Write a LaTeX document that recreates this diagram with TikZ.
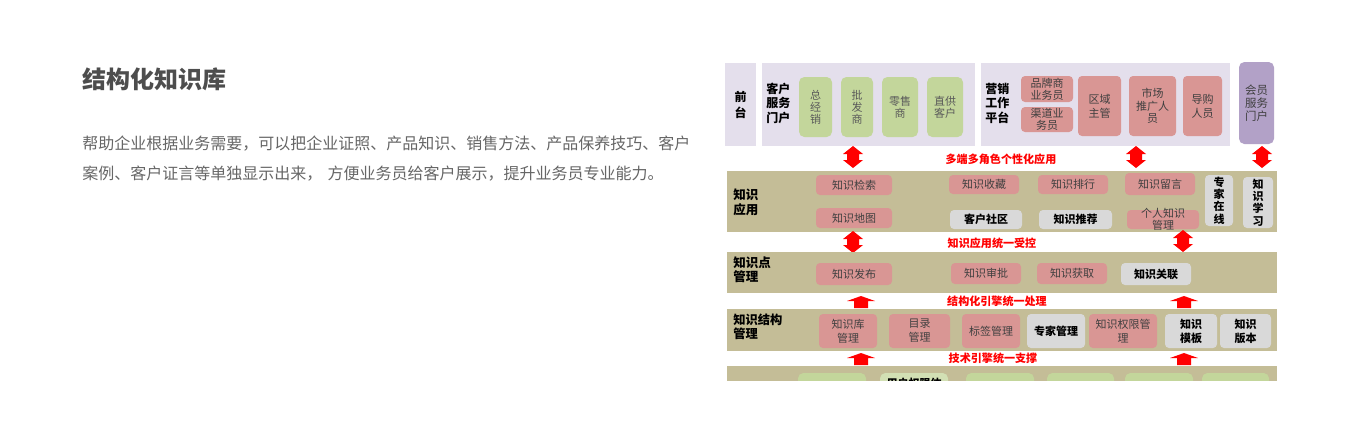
\documentclass[tikz,border=0pt]{standalone}
\usepackage{fontspec}
\setmainfont{Noto Sans CJK SC}
\usetikzlibrary{fit}
\definecolor{bandc}{HTML}{C4BD97}
\definecolor{lavc}{HTML}{E4DFEC}
\definecolor{greenc}{HTML}{C3D69B}
\definecolor{pinkc}{HTML}{D99694}
\definecolor{grayc}{HTML}{D9D9D9}
\definecolor{purc}{HTML}{B2A1C7}
\definecolor{txtc}{HTML}{3F3F3F}
\definecolor{gtxtc}{HTML}{5A5A5A}
\definecolor{titlec}{HTML}{4D4D4D}
\definecolor{parac}{HTML}{666666}
\definecolor{redc}{HTML}{FF0000}
\newcommand\dbox[8][txt]{%
  \node[#2, fit={(#4,#5) (#6,#7)}, inner sep=0pt] (#3) {};
  \node[#1] (#3-t) at (#3.center) {#8};}
\begin{document}
\begin{tikzpicture}[x=0.75pt,y=-0.75pt,
  band/.style={fill=bandc, draw=none},
  lav/.style={fill=lavc, draw=none},
  gbox/.style={fill=greenc, rounded corners=4pt},
  pbox/.style={fill=pinkc, rounded corners=3pt},
  gybox/.style={fill=grayc, rounded corners=3pt},
  purbox/.style={fill=purc, rounded corners=4pt},
  txt/.style={font=\fontsize{8.25}{9}\selectfont, text=txtc, align=center, inner sep=0pt},
  vtxt/.style={font=\fontsize{8.25}{9}\selectfont, text=gtxtc, align=center, inner sep=0pt},
  btxt/.style={font=\bfseries\fontsize{8.25}{9.2}\selectfont, text=black, align=center, inner sep=0pt},
  lbl/.style={font=\bfseries\fontsize{9.2}{11}\selectfont, text=black, align=left, anchor=west, inner sep=0pt},
  redlbl/.style={font=\bfseries\fontsize{8.3}{9}\selectfont, text=redc, inner sep=0pt},
  dblarr/.pic={\fill[redc] (0,-11)--(10,-3)--(6,-3)--(6,3)--(10,3)--(0,11)--(-10,3)--(-6,3)--(-6,-3)--(-10,-3)--cycle;},
  uparr/.pic={\fill[redc] (0,-6)--(14,-1)--(7,-1)--(7,6)--(-7,6)--(-7,-1)--(-14,-1)--cycle;}
]
\useasboundingbox (0,0) rectangle (1362,440);
\fill[white] (0,0) rectangle (1362,440);

% left text
\node[anchor=west, inner sep=0pt, font=\bfseries\fontsize{18}{20}\selectfont, text=titlec] (title) at (82,79) {结构化知识库};
\node[anchor=west, inner sep=0pt, font=\fontsize{12}{14}\selectfont, text=parac] (para1) at (82,144) {帮助企业根据业务需要，可以把企业证照、产品知识、销售方法、产品保养技巧、客户};
\node[anchor=west, inner sep=0pt, font=\fontsize{12}{14}\selectfont, text=parac] (para2) at (82,174) {案例、客户证言等单独显示出来，\kern4pt 方便业务员给客户展示，提升业务员专业能力。};

\begin{scope}
\clip (720,55) rectangle (1285,380);
% ---- front row
\dbox[btxt, font=\bfseries\fontsize{9}{12}\selectfont]{lav}{qt}{725}{63}{756}{146}{前\\台}
\node[lav, fit={(762,63) (975,146)}, inner sep=0pt] (khfw) {};
\node[lbl, font=\bfseries\fontsize{9}{10.9}\selectfont] (khfw-t) at (766,103) {客户\\服务\\门户};
\dbox[vtxt]{gbox}{zjx}{799}{77}{832}{137}{总\\经\\销}
\dbox[vtxt]{gbox}{pfs}{841}{77}{873}{137}{批\\发\\商}
\dbox[vtxt]{gbox}{lss}{882}{77}{918}{137}{零售\\商}
\dbox[vtxt]{gbox}{zgkh}{927}{77}{963}{137}{直供\\客户}

\node[lav, fit={(981,63) (1230,146)}, inner sep=0pt] (yxgz) {};
\node[lbl, font=\bfseries\fontsize{9}{10.9}\selectfont] (yxgz-t) at (985,103) {营销\\工作\\平台};
\dbox{pbox}{ppyw}{1021}{76}{1073}{102}{品牌商\\业务员}
\dbox{pbox}{qdyw}{1021}{107}{1073}{132}{渠道业\\务员}
\dbox[txt, font=\fontsize{8.25}{10.5}\selectfont]{pbox}{qyzg}{1078}{76}{1121}{136}{区域\\主管}
\dbox[txt, font=\fontsize{8.25}{9.4}\selectfont]{pbox}{sctg}{1129}{76}{1176}{136}{市场\\推广人\\员}
\dbox[txt, font=\fontsize{8.25}{10.5}\selectfont]{pbox}{dgry}{1183}{76}{1222}{136}{导购\\人员}
\dbox[txt, font=\fontsize{8.6}{9.8}\selectfont]{purbox}{hyfw}{1239}{62}{1274}{144}{会员\\服务\\门户}

% arrows band 1
\pic at (853,157) {dblarr};
\pic at (1136,157) {dblarr};
\pic at (1262,157) {dblarr};
\node[redlbl] (r1) at (1001,159) {多端多角色个性化应用};

% ---- knowledge application
\node[band, fit={(727,171) (1277,232)}, inner sep=0pt] (app) {};
\node[lbl, font=\bfseries\fontsize{9.4}{11.25}\selectfont] (app-t) at (733,202) {知识\\应用};
\dbox{pbox}{zsjs}{816}{175}{892}{195}{知识检索}
\dbox{pbox}{zsdt}{816}{208}{892}{228}{知识地图}
\dbox{pbox}{zssc}{949}{175}{1019}{194}{知识收藏}
\dbox{pbox}{zsph}{1038}{175}{1108}{194}{知识排行}
\dbox{pbox}{zsly}{1125}{173}{1195}{195}{知识留言}
\dbox{pbox}{grzs}{1127}{210}{1199}{229}{个人知识\\管理}
\dbox[btxt]{gybox}{khsq}{950}{210}{1022}{229}{客户社区}
\dbox[btxt]{gybox}{zstj}{1039}{210}{1112}{229}{知识推荐}
\dbox[btxt]{gybox}{zjzx}{1205}{175}{1233}{226}{专\\家\\在\\线}
\dbox[btxt]{gybox}{zsxx}{1243}{177}{1273}{228}{知\\识\\学\\习}

% arrows band 2
\pic at (853,242) {dblarr};
\pic at (1183,241) {dblarr};
\node[redlbl] (r2) at (992,243) {知识应用统一受控};

% ---- knowledge point management
\node[band, fit={(727,252) (1277,293)}, inner sep=0pt] (pt) {};
\node[lbl, font=\bfseries\fontsize{9.4}{10.5}\selectfont] (pt-t) at (733,270) {知识点\\管理};
\dbox{pbox}{zsfb}{816}{263}{892}{285}{知识发布}
\dbox{pbox}{zssp}{951}{263}{1021}{284}{知识审批}
\dbox{pbox}{zshq}{1037}{263}{1107}{284}{知识获取}
\dbox[btxt]{gybox}{zsgl}{1121}{263}{1191}{285}{知识关联}

% arrows band 3
\pic at (861,302) {uparr};
\pic at (1184,302) {uparr};
\node[redlbl] (r3) at (997,301) {结构化引擎统一处理};

% ---- knowledge structure management
\node[band, fit={(727,309) (1277,351)}, inner sep=0pt] (st) {};
\node[lbl, font=\bfseries\fontsize{9.2}{10.5}\selectfont] (st-t) at (733,327) {知识结构\\管理};
\dbox[txt, font=\fontsize{8.25}{10.5}\selectfont]{pbox}{zskgl}{819}{314}{877}{348}{知识库\\管理}
\dbox[txt, font=\fontsize{8.25}{10.5}\selectfont]{pbox}{mlgl}{889}{314}{950}{348}{目录\\管理}
\dbox{pbox}{bqgl}{962}{314}{1020}{348}{标签管理}
\dbox[btxt]{gybox}{zjgl}{1027}{314}{1085}{348}{专家管理}
\dbox[txt, font=\fontsize{8.25}{10.5}\selectfont]{pbox}{zsqx}{1089}{314}{1157}{348}{知识权限管\\理}
\dbox[btxt, font=\bfseries\fontsize{8.25}{10.5}\selectfont]{gybox}{zsmb}{1165}{314}{1217}{348}{知识\\模板}
\dbox[btxt, font=\bfseries\fontsize{8.25}{10.5}\selectfont]{gybox}{zsbb}{1220}{314}{1271}{348}{知识\\版本}

% arrows band 4
\pic at (861,359) {uparr};
\pic at (1184,359) {uparr};
\node[redlbl] (r4) at (993,358) {技术引擎统一支撑};

% ---- bottom row (cropped)
\node[band, fit={(727,366) (1277,400)}, inner sep=0pt] (bt) {};
\node[gbox, fit={(798,373) (866,400)}, inner sep=0pt] (b1) {};
\node[gbox, fill=greenc!75!white, fit={(880,373) (948,400)}, inner sep=0pt] (b2) {};
\node[btxt] (b2-t) at (914,383) {用户权限体};
\node[gbox, fit={(966,373) (1034,400)}, inner sep=0pt] (b3) {};
\node[gbox, fit={(1047,373) (1114,400)}, inner sep=0pt] (b4) {};
\node[gbox, fit={(1125,373) (1193,400)}, inner sep=0pt] (b5) {};
\node[gbox, fit={(1202,373) (1269,400)}, inner sep=0pt] (b6) {};
\end{scope}
\end{tikzpicture}
\end{document}
